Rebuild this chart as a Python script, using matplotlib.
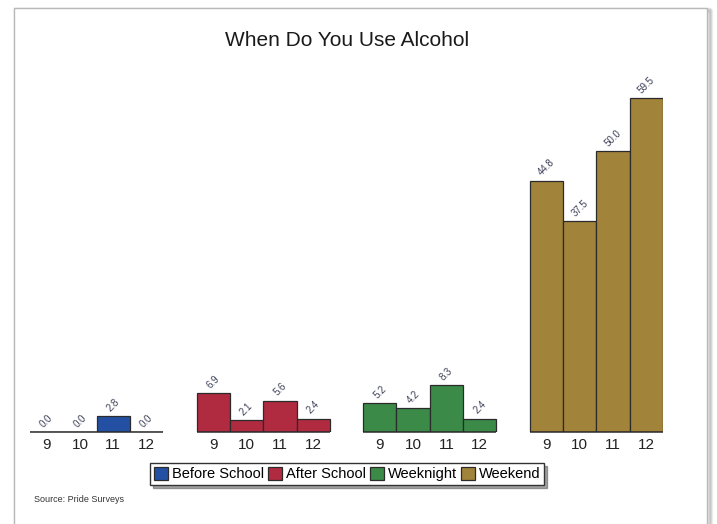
import matplotlib
matplotlib.use("Agg")
import matplotlib.pyplot as plt
from matplotlib.patches import Rectangle, Patch

plt.rcParams['font.family'] = ['Liberation Sans', 'DejaVu Sans']

title = "When Do You Use Alcohol"
grades = ["9", "10", "11", "12"]
series_names = ["Before School", "After School", "Weeknight", "Weekend"]
before_school = [0.0, 0.0, 2.8, 0.0]
after_school = [6.9, 2.1, 5.6, 2.4]
weeknight = [5.2, 4.2, 8.3, 2.4]
weekend = [44.8, 37.5, 50.0, 59.5]
colors = ["#2350a3", "#b02a40", "#3b8a48", "#a1833a"]
source = "Source: Pride Surveys"

series = [before_school, after_school, weeknight, weekend]

W, H = 717, 524
fig = plt.figure(figsize=(W / 100, H / 100), dpi=100)
fig.patch.set_facecolor("white")

# page frame with a soft shadow
for i, a in enumerate([0.06, 0.08, 0.1]):
    off = 3 - i
    fig.patches.append(Rectangle(((14 + off) / W, -0.05), (694) / W, (H - 8 + 0.05 * H - off) / H,
                                 transform=fig.transFigure, facecolor="none",
                                 edgecolor=(0, 0, 0, a), linewidth=2.5, zorder=0))
fig.patches.append(Rectangle((14 / W, -0.05), 693 / W, (H - 8) / H + 0.05,
                             transform=fig.transFigure, facecolor="white",
                             edgecolor="#b8b8b8", linewidth=1.0, zorder=1))

ax_left, ax_right = 30, 663
base_y = 432
ymax = 62
px_per_unit = (432 - 98) / 59.5
ax_top = base_y - ymax * px_per_unit
ax = fig.add_axes([ax_left / W, (H - base_y) / H, (ax_right - ax_left) / W,
                   (base_y - ax_top) / H])
ax.set_facecolor("none")
ax.set_zorder(3)

ticks, labels = [], []
for g, (vals, col) in enumerate(zip(series, colors)):
    xs = [g * 5 + i + 0.5 for i in range(len(vals))]
    ax.bar(xs, vals, width=1.0, color=col, edgecolor="#2b2b2b", linewidth=0.9, zorder=2)
    ax.plot([g * 5, g * 5 + 4], [0, 0], color="#2b2b2b", lw=1.1, zorder=3,
            clip_on=False, solid_capstyle="butt")
    for x, v in zip(xs, vals):
        ax.annotate(f"{v:.1f}", (x, v), xytext=(0, 2), textcoords="offset points",
                    ha="center", va="bottom", rotation=45, fontsize=7,
                    color="#3c4058", zorder=4)
    ticks += xs
    labels += grades

ax.set_xlim(0, 19)
ax.set_ylim(0, ymax)
ax.set_xticks(ticks)
ax.set_xticklabels(labels, fontsize=11, color="#222222")
ax.tick_params(axis="x", length=0, pad=4)
ax.set_yticks([])
for s in ax.spines.values():
    s.set_visible(False)

fig.text(347 / W, 1 - 40 / H, title, ha="center", va="center", fontsize=15,
         color="#1a1a1a", zorder=5)

handles = [Patch(facecolor=c, edgecolor="#2b2b2b", linewidth=0.9) for c in colors]
leg = fig.legend(handles, series_names, loc="center", bbox_to_anchor=(347 / W, 1 - 474 / H),
                 ncol=4, fontsize=10.5, frameon=True, fancybox=False, shadow=True,
                 handlelength=1.0, handleheight=1.0, handletextpad=0.25,
                 columnspacing=0.25, borderpad=0.25, borderaxespad=0)
leg.get_frame().set_edgecolor("#333333")
leg.get_frame().set_linewidth(1.0)
leg.set_zorder(6)

fig.text(34 / W, 1 - 500 / H, source, ha="left", va="center", fontsize=6.5,
         color="#333333", zorder=5)

fig.savefig("out.png", dpi=100)
